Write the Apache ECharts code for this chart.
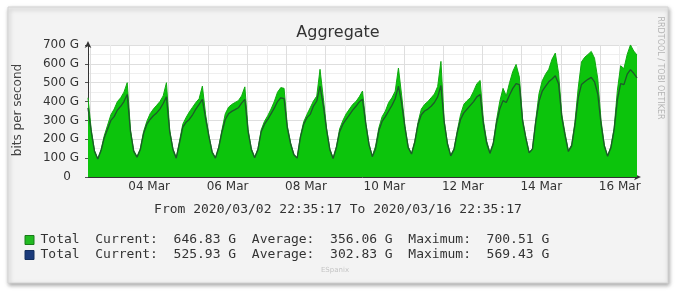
<!DOCTYPE html>
<html><head><meta charset="utf-8">
<script src="https://cdn.jsdelivr.net/npm/echarts@6/dist/echarts.min.js"></script>
<style>html,body{margin:0;padding:0;background:#ffffff;}#c{width:688px;height:293px;}</style>
</head><body><div id="c"></div>
<script>
// ---- data ----
const START = Date.UTC(2020, 2, 2, 22, 35, 17);
const END = Date.UTC(2020, 2, 16, 22, 35, 17);
const STEP_HOURS = 2;

// green area "Total" (G), one value every 2 h from START
const totalArea = [420,
  250,140,97,145,220,275,330,360,400,420,450,500,   // 03 Mar
  250,140,108,150,240,295,335,360,380,400,430,500,  // 04 Mar
  250,150,102,190,280,315,345,370,395,415,482,330,  // 05 Mar
  220,135,102,160,250,335,370,385,395,405,430,478,  // 06 Mar
  250,150,105,150,250,295,325,360,400,450,474,470,  // 07 Mar
  270,182,120,102,217,292,332,367,403,429,571,420,  // 08 Mar
  260,150,100,160,255,300,335,360,385,400,425,456,  // 09 Mar
  290,175,110,164,260,320,350,395,420,455,578,430,  // 10 Mar
  270,160,125,190,290,360,385,400,420,440,480,613,  // 11 Mar
  300,180,115,150,245,330,385,405,420,455,495,512,  // 12 Mar
  300,190,130,180,300,400,470,430,500,560,597,530,  // 13 Mar
  306,210,130,150,300,440,510,545,571,625,657,550,  // 14 Mar
  330,230,140,170,290,470,610,635,650,666,630,520,  // 15 Mar
  300,170,112,160,260,460,590,575,650,700.51,668,646.83 // 16 Mar
];
// dark line "Total" (G)
const totalLine = [367,
  240,135,95,140,210,255,300,320,355,375,400,438,
  240,135,105,145,230,280,305,325,340,360,390,425,
  240,145,100,180,265,290,305,330,360,385,412,310,
  215,130,100,155,240,305,335,348,357,367,392,412,
  240,145,102,145,240,280,305,335,365,400,420,415,
  260,175,118,100,210,280,315,332,376,403,482,380,
  250,145,98,155,240,280,305,330,355,375,398,412,
  280,170,108,150,245,295,320,350,380,415,482,390,
  260,155,122,185,280,330,350,360,375,395,425,485,
  290,175,112,145,235,305,340,360,380,400,425,438,
  280,180,125,175,285,360,405,395,435,470,495,490,
  295,205,128,148,290,400,455,480,505,520,537,495,
  315,220,135,165,275,420,490,505,518,528,505,440,
  280,165,110,155,250,410,495,490,545,569.43,550,525.93
];

const xLabelDays = [4, 6, 8, 10, 12, 14, 16];
const xTickLabels = ['04 Mar', '06 Mar', '08 Mar', '10 Mar', '12 Mar', '14 Mar', '16 Mar'];
const yTickLabels = ['0', '100 G', '200 G', '300 G', '400 G', '500 G', '600 G', '700 G'];

const legendNames = ['Total', 'Total'];
const legendCurrent = ['646.83 G', '525.93 G'];
const legendAverage = ['356.06 G', '302.83 G'];
const legendMaximum = ['700.51 G', '569.43 G'];
const periodText = 'From 2020/03/02 22:35:17 To 2020/03/16 22:35:17';

// ---- build ----
const H = 3600 * 1000;
const times = totalArea.map((_, i) => START + i * STEP_HOURS * H);
const areaData = times.map((t, i) => [t, totalArea[i]]);
const lineData = times.map((t, i) => [t, totalLine[i]]);
const labelTimes = xLabelDays.map(d => Date.UTC(2020, 2, d, 12));
const midnights = [];
for (let d = 3; d <= 16; d++) midnights.push(Date.UTC(2020, 2, d));
const halfDays = [];
for (let t = Date.UTC(2020, 2, 3); t <= END; t += 12 * H) halfDays.push(t);

const chart = echarts.init(document.getElementById('c'), null, {renderer: 'canvas'});

function legendRow(i) {
  return legendNames[i] + '  Current:  ' + legendCurrent[i] + '  Average:  ' +
    legendAverage[i] + '  Maximum:  ' + legendMaximum[i];
}
const mono = '"DejaVu Sans Mono", monospace';
const sans = '"DejaVu Sans", sans-serif';

chart.setOption({
  animation: false,
  backgroundColor: 'transparent',
  grid: {left: 88, right: 51, top: 45, bottom: 116, show: true, backgroundColor: '#ffffff', borderWidth: 0, z: 0},
  xAxis: [{
    type: 'value', min: START, max: END,
    axisLine: {show: true, lineStyle: {color: '#333', width: 1}, symbol: ['none', 'arrow'], symbolSize: [5, 7], symbolOffset: [0, 4]},
    axisTick: {show: true, length: 0, customValues: halfDays},
    axisLabel: {
      customValues: labelTimes, margin: 4, color: '#333', fontSize: 12, fontFamily: sans,
      formatter: v => { const k = labelTimes.findIndex(t => Math.abs(t - v) < 1000); return k >= 0 ? xTickLabels[k] : ''; }
    },
    splitLine: {show: true, lineStyle: {color: '#ececec', width: 1}}
  }, {
    type: 'value', min: START, max: END, position: 'top',
    axisLine: {show: false}, axisLabel: {show: false},
    axisTick: {show: true, length: 0, customValues: midnights},
    splitLine: {show: true, lineStyle: {color: '#dedede', width: 1}}
  }],
  yAxis: {
    type: 'value', min: 0, max: 700, interval: 100,
    axisLine: {show: true, lineStyle: {color: '#333', width: 1}, symbol: ['none', 'arrow'], symbolSize: [5, 7], symbolOffset: [0, 4]},
    axisTick: {show: true, length: 3, lineStyle: {color: '#555'}},
    axisLabel: {
      margin: 9, color: '#333', fontSize: 12, fontFamily: sans,
      formatter: v => { const k = Math.round(v / 100); return k === 0 ? '{z|' + yTickLabels[0] + '}' : yTickLabels[k]; },
      rich: {z: {padding: [0, 8, 0, 0], fontSize: 12, fontFamily: sans, color: '#333'}}
    },
    splitLine: {show: true, lineStyle: {color: '#dedede', width: 1}},
    minorTick: {show: false, splitNumber: 2},
    minorSplitLine: {show: true, lineStyle: {color: '#efefef', width: 1}}
  },
  series: [{
    name: 'Total', type: 'line', data: areaData, showSymbol: false, symbol: 'none',
    lineStyle: {color: '#12a812', width: 1},
    areaStyle: {color: '#0cc40c', opacity: 1},
    z: 2
  }, {
    name: 'Total', type: 'line', data: lineData, showSymbol: false, symbol: 'none',
    lineStyle: {color: '#1d5a2a', width: 1.3},
    z: 3
  }],
  graphic: [
    {type: 'rect', z: -10, shape: {x: 8, y: 7, width: 660, height: 276},
      style: {fill: '#f3f3f3', stroke: '#d4d4d4', lineWidth: 1, shadowBlur: 4, shadowColor: 'rgba(0,0,0,0.35)', shadowOffsetX: 1, shadowOffsetY: 2}},
    {type: 'text', x: 338, y: 33, style: {text: 'Aggregate', fontSize: 16, fontFamily: sans, fill: '#333', align: 'center', verticalAlign: 'middle', textAlign: 'center', textVerticalAlign: 'middle'}},
    {type: 'text', x: 18, y: 110, rotation: Math.PI / 2, style: {text: 'bits per second', fontSize: 12, fontFamily: sans, fill: '#444', align: 'center', verticalAlign: 'middle', textAlign: 'center', textVerticalAlign: 'middle'}},
    {type: 'text', x: 660, y: 68, rotation: -Math.PI / 2, style: {text: 'RRDTOOL / TOBI OETIKER', fontSize: 8, fontFamily: sans, fill: '#b4b4b4', align: 'center', verticalAlign: 'middle', textAlign: 'center', textVerticalAlign: 'middle'}},
    {type: 'text', x: 338, y: 210, style: {text: periodText, fontSize: 13, fontFamily: mono, fill: '#333', align: 'center', verticalAlign: 'middle', textAlign: 'center', textVerticalAlign: 'middle'}},
    {type: 'rect', shape: {x: 25, y: 235.5, width: 9, height: 9}, style: {fill: '#22bb22', stroke: '#1a7a1a', lineWidth: 1}},
    {type: 'rect', shape: {x: 25, y: 250.5, width: 9, height: 9}, style: {fill: '#1b3b7b', stroke: '#14305f', lineWidth: 1}},
    {type: 'text', x: 40.5, y: 240, style: {text: legendRow(0), fontSize: 13, fontFamily: mono, fill: '#333', verticalAlign: 'middle', textVerticalAlign: 'middle'}},
    {type: 'text', x: 40.5, y: 255, style: {text: legendRow(1), fontSize: 13, fontFamily: mono, fill: '#333', verticalAlign: 'middle', textVerticalAlign: 'middle'}},
    {type: 'text', x: 335, y: 270, style: {text: 'ESpanix', fontSize: 7, fontFamily: sans, fill: '#c4c4c4', align: 'center', verticalAlign: 'middle', textAlign: 'center', textVerticalAlign: 'middle'}}
  ]
});
</script></body></html>
